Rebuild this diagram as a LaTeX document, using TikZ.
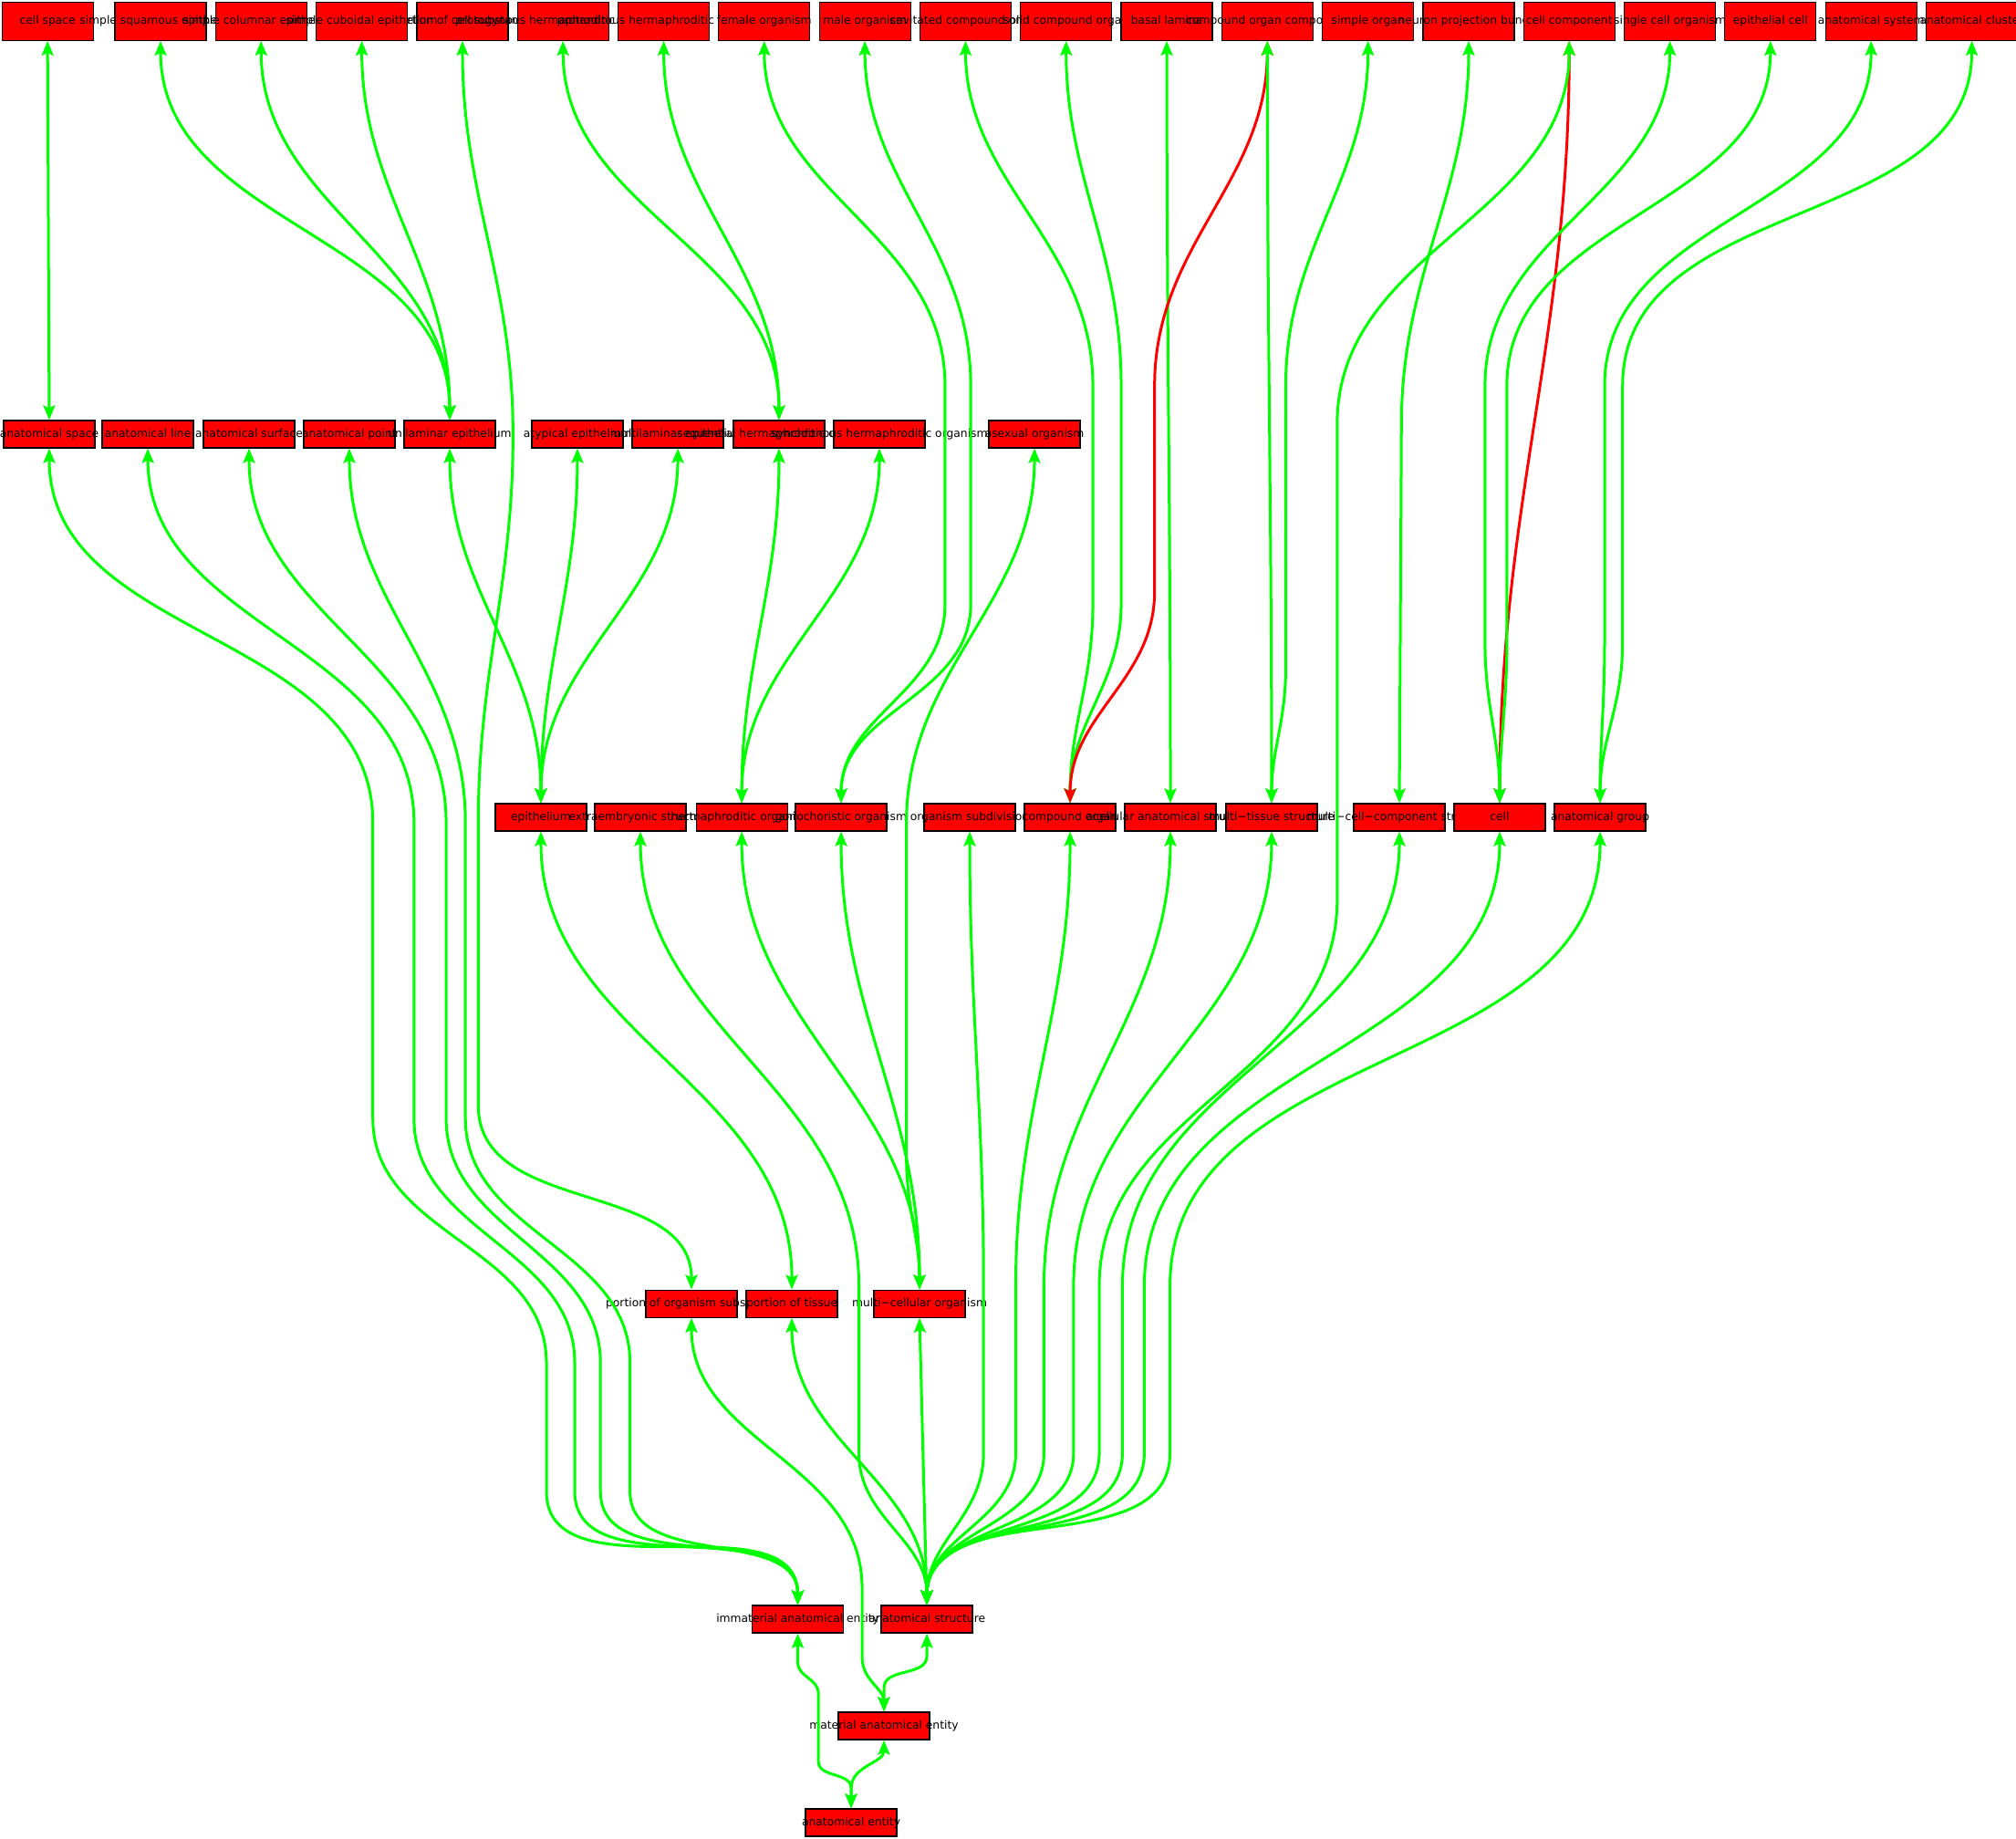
\documentclass[tikz,border=0pt]{standalone}
\usepackage{fontspec}
\setmainfont{DejaVu Sans}
\usetikzlibrary{arrows.meta}
\definecolor{isagreen}{RGB}{0,255,0}
\definecolor{partred}{RGB}{255,0,0}
\definecolor{termred}{RGB}{255,0,0}
\newcommand\boxtext[1]{\makebox[0pt]{#1}}
\begin{document}
\begin{tikzpicture}[x=1.4094pt,y=1.4094pt,
  term/.style={draw=black,line width=1.2pt,fill=termred,minimum width=100pt,
    minimum height=30pt,inner sep=0pt,text height=9pt,text depth=2.5pt,
    font=\fontsize{12.3}{14}\selectfont},
  topterm/.style={term,minimum height=42pt},
  isa/.style={draw=isagreen,line width=3pt,
    {Stealth[length=16pt,width=13pt,inset=3pt]}-{Stealth[length=16pt,width=13pt,inset=3pt]}},
  partof/.style={isa,draw=partred},
  sb/.style={out=-90,in=90}]
\path[use as bounding box] (0,0) rectangle (1568,-1429.7);

% top row
\node[topterm] (t1)  at (37,-16.5)     {\boxtext{cell space}};
\node[topterm] (t2)  at (124.9,-16.5)  {\boxtext{simple squamous epithelium}};
\node[topterm] (t3)  at (203.1,-16.5)  {\boxtext{simple columnar epithelium}};
\node[topterm] (t5)  at (359.7,-16.5)  {\boxtext{portion of cell substance}};
\node[topterm] (t4)  at (281.4,-16.5)  {\boxtext{simple cuboidal epithelium}};
\node[topterm] (t6)  at (437.9,-16.5)  {\boxtext{protogynous hermaphroditic organism}};
\node[topterm] (t7)  at (516.2,-16.5)  {\boxtext{protandrous hermaphroditic organism}};
\node[topterm] (t8)  at (594.4,-16.5)  {\boxtext{female organism}};
\node[topterm] (t9)  at (672.7,-16.5)  {\boxtext{male organism}};
\node[topterm] (t10) at (751,-16.5)    {\boxtext{cavitated compound organ}};
\node[topterm] (t11) at (829.2,-16.5)  {\boxtext{solid compound organ}};
\node[topterm] (t12) at (907.5,-16.5)  {\boxtext{basal lamina}};
\node[topterm] (t13) at (985.7,-16.5)  {\boxtext{compound organ component}};
\node[topterm] (t14) at (1064,-16.5)   {\boxtext{simple organ}};
\node[topterm] (t15) at (1142.3,-16.5) {\boxtext{neuron projection bundle}};
\node[topterm] (t16) at (1220.5,-16.5) {\boxtext{cell component}};
\node[topterm] (t17) at (1298.8,-16.5) {\boxtext{single cell organism}};
\node[topterm] (t18) at (1377,-16.5)   {\boxtext{epithelial cell}};
\node[topterm] (t19) at (1455.3,-16.5) {\boxtext{anatomical system}};
\node[topterm] (t20) at (1533.6,-16.5) {\boxtext{anatomical cluster}};

% second row
\node[term] (r1)  at (38.3,-337.7)  {\boxtext{anatomical space}};
\node[term] (r2)  at (115,-337.7)   {\boxtext{anatomical line}};
\node[term] (r3)  at (193.7,-337.7) {\boxtext{anatomical surface}};
\node[term] (r4)  at (271.7,-337.7) {\boxtext{anatomical point}};
\node[term] (r5)  at (349.8,-337.7) {\boxtext{unilaminar epithelium}};
\node[term] (r6)  at (449.1,-337.7) {\boxtext{atypical epithelium}};
\node[term] (r7)  at (527.2,-337.7) {\boxtext{multilaminar epithelium}};
\node[term] (r8)  at (605.9,-337.7) {\boxtext{sequential hermaphroditic organism}};
\node[term] (r9)  at (684,-337.7)   {\boxtext{synchronous hermaphroditic organism}};
\node[term] (r10) at (804.6,-337.7) {\boxtext{asexual organism}};

% third row
\node[term] (s1)  at (420.7,-635.7)  {\boxtext{epithelium}};
\node[term] (s2)  at (498.1,-635.7)  {\boxtext{extraembryonic structure}};
\node[term] (s3)  at (576.9,-635.7)  {\boxtext{hermaphroditic organism}};
\node[term] (s4)  at (654.2,-635.7)  {\boxtext{gonochoristic organism}};
\node[term] (s5)  at (754.2,-635.7)  {\boxtext{organism subdivision}};
\node[term] (s6)  at (832.3,-635.7)  {\boxtext{compound organ}};
\node[term] (s7)  at (910.3,-635.7)  {\boxtext{acellular anatomical structure}};
\node[term] (s8)  at (989,-635.7)    {\boxtext{multi−tissue structure}};
\node[term] (s9)  at (1088.4,-635.7) {\boxtext{multi−cell−component structure}};
\node[term] (s10) at (1166.4,-635.7) {\boxtext{cell}};
\node[term] (s11) at (1244.5,-635.7) {\boxtext{anatomical group}};

% fourth row
\node[term] (q1) at (537.8,-1014) {\boxtext{portion of organism substance}};
\node[term] (q2) at (615.9,-1014) {\boxtext{portion of tissue}};
\node[term] (q3) at (715.2,-1014) {\boxtext{multi−cellular organism}};

% root levels
\node[term] (immat)   at (620.5,-1259.4) {\boxtext{immaterial anatomical entity}};
\node[term] (astruct) at (720.9,-1259.4) {\boxtext{anatomical structure}};
\node[term] (matent)  at (687.5,-1342.4) {\boxtext{material anatomical entity}};
\node[term] (aent)    at (662,-1417.6)   {\boxtext{anatomical entity}};

% top row links
\draw[isa] (t1.south) -- (r1.north);
\draw[isa] (t2.south) to[sb] (r5.north);
\draw[isa] (t3.south) to[sb] (r5.north);
\draw[isa] (t4.south) to[sb] (r5.north);
\draw[isa] (t5.south) to[sb] (399,-338) to[sb] (372,-640) -- (372,-860) to[sb] (q1.north);
\draw[isa] (t6.south) to[sb] (r8.north);
\draw[isa] (t7.south) to[sb] (r8.north);
\draw[isa] (t8.south) to[sb] (735,-300) -- (735,-470) to[sb] (s4.north);
\draw[isa] (t9.south) to[sb] (755,-300) -- (755,-470) to[sb] (s4.north);
\draw[isa] (t10.south) to[sb] (850,-300) -- (850,-470) to[sb] (s6.north);
\draw[isa] (t11.south) to[sb] (872,-300) -- (872,-470) to[sb] (s6.north);
\draw[isa] (t12.south) to[sb] (s7.north);
\draw[partof] (t13.south) to[sb] (898,-300) -- (898,-460) to[sb] (s6.north);
\draw[isa] (t13.south) to[sb] (s8.north);
\draw[isa] (t14.south) to[sb] (1000,-300) -- (1000,-520) to[sb] (s8.north);
\draw[isa] (t15.south) to[sb] (1090,-330) -- (s9.north);
\draw[partof] (t16.south) to[sb] (s10.north);
\draw[isa] (t16.south) to[sb] (1040,-330) -- (1040,-700) to[sb] (855,-1000) -- (855,-1130) to[sb] (astruct.north);
\draw[isa] (t17.south) to[sb] (1155,-300) -- (1155,-500) to[sb] (s10.north);
\draw[isa] (t18.south) to[sb] (1172,-300) -- (1172,-500) to[sb] (s10.north);
\draw[isa] (t19.south) to[sb] (1248,-300) -- (1248,-500) to[sb] (s11.north);
\draw[isa] (t20.south) to[sb] (1262,-300) -- (1262,-500) to[sb] (s11.north);

% second row links
\draw[isa] (r1.south) to[sb] (290,-640) -- (290,-870) to[sb] (425,-1060) -- (425,-1160) to[sb] (immat.north);
\draw[isa] (r2.south) to[sb] (322,-640) -- (322,-870) to[sb] (447,-1060) -- (447,-1160) to[sb] (immat.north);
\draw[isa] (r3.south) to[sb] (347,-640) -- (347,-870) to[sb] (467,-1060) -- (467,-1160) to[sb] (immat.north);
\draw[isa] (r4.south) to[sb] (362,-640) -- (362,-870) to[sb] (490,-1060) -- (490,-1160) to[sb] (immat.north);
\draw[isa] (r5.south) to[sb] (s1.north);
\draw[isa] (r6.south) to[sb] (s1.north);
\draw[isa] (r7.south) to[sb] (s1.north);
\draw[isa] (r8.south) to[sb] (s3.north);
\draw[isa] (r9.south) to[sb] (s3.north);
\draw[isa] (r10.south) to[sb] (705,-640) -- (705,-900) to[sb] (q3.north);

% third row links
\draw[isa] (s1.south) to[sb] (q2.north);
\draw[isa] (s2.south) to[sb] (668,-1000) -- (668,-1130) to[sb] (astruct.north);
\draw[isa] (s3.south) to[sb] (q3.north);
\draw[isa] (s4.south) to[sb] (q3.north);
\draw[isa] (s5.south) to[sb] (765,-1000) -- (765,-1130) to[sb] (astruct.north);
\draw[isa] (s6.south) to[sb] (790,-1000) -- (790,-1130) to[sb] (astruct.north);
\draw[isa] (s7.south) to[sb] (812,-1000) -- (812,-1130) to[sb] (astruct.north);
\draw[isa] (s8.south) to[sb] (835,-1000) -- (835,-1130) to[sb] (astruct.north);
\draw[isa] (s9.south) to[sb] (873,-1000) -- (873,-1130) to[sb] (astruct.north);
\draw[isa] (s10.south) to[sb] (890,-1000) -- (890,-1130) to[sb] (astruct.north);
\draw[isa] (s11.south) to[sb] (910,-1000) -- (910,-1130) to[sb] (astruct.north);

% fourth row links
\draw[isa] (q1.south) to[sb] (670.5,-1235) -- (670.5,-1289) to[sb] (matent.north);
\draw[isa] (q2.south) to[sb] (astruct.north);
\draw[isa] (q3.south) -- (astruct.north);

% root links
\draw[isa] (astruct.south) -- (720.9,-1288) to[sb] (687.5,-1313) -- (matent.north);
\draw[isa] (immat.south) -- (620.5,-1293) to[sb] (636.5,-1317) -- (636.5,-1370) to[sb] (662,-1391) -- (aent.north);
\draw[isa] (matent.south) to[sb] (662,-1391) -- (aent.north);
\end{tikzpicture}
\end{document}
